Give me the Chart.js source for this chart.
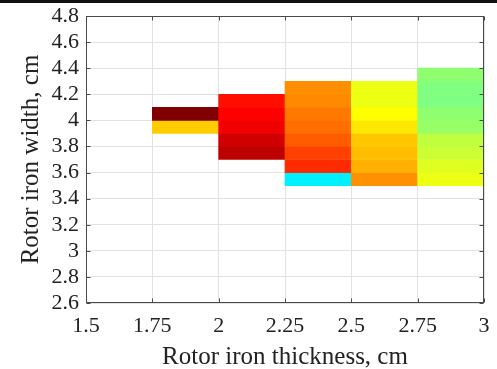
<!DOCTYPE html>
<html>
<head>
<meta charset="utf-8">
<script src="https://cdn.jsdelivr.net/npm/chart.js@4.4.0/dist/chart.umd.min.js"></script>
<style>
  html, body { margin: 0; padding: 0; background: #fff; }
  #wrap { position: relative; width: 497px; height: 369px; }
  #topline { position: absolute; left: 0; top: 0; width: 497px; height: 3px; background: #111; }
</style>
</head>
<body>
<div id="wrap">
  <canvas id="myChart" width="497" height="369"></canvas>
  <div id="topline"></div>
</div>
<script>
// cell lower-left corners
const thickness = [1.75, 2.0, 2.25, 2.5, 2.75];
const widths = [3.5, 3.6, 3.7, 3.8, 3.9, 4.0, 4.1, 4.2, 4.3];
// colour level of each cell (0..1 on the jet colormap), one list per thickness, null = empty
const levels = [
  [null, null, null, null, 0.675, 1.0, null, null, null],
  [null, null, 0.94, 0.92, 0.89, 0.875, 0.86, null, null],
  [0.36, 0.8325, 0.8125, 0.785, 0.7675, 0.7575, 0.74, 0.735, null],
  [0.734, 0.7025, 0.6875, 0.68, 0.6475, 0.625, 0.6075, 0.6075, null],
  [0.6075, 0.5925, 0.575, 0.5625, 0.525, 0.516, 0.5, 0.5, 0.516],
];
const xTicks = [1.5, 1.75, 2, 2.25, 2.5, 2.75, 3];
const yTicks = [2.6, 2.8, 3, 3.2, 3.4, 3.6, 3.8, 4, 4.2, 4.4, 4.6, 4.8];

const grafica = document.getElementById("myChart");

const jet = (v) => {
  const c = (t) => Math.round(255 * Math.max(0, Math.min(1, 1.5 - Math.abs(4 * v - t))));
  return `rgb(${c(3)}, ${c(2)}, ${c(1)})`;
};

const tStep = thickness[1] - thickness[0];
const wStep = 0.1;
const cells = [];
thickness.forEach((t, i) => {
  widths.forEach((w, j) => {
    const v = levels[i][j];
    if (v === null) return;
    cells.push({ x: t + tStep / 2, y: [w, w + wStep], v });
  });
});

const frame = {
  id: "frame",
  afterDatasetsDraw(chart) {
    const { ctx, chartArea: a, scales } = chart;
    ctx.save();
    ctx.strokeStyle = "#4a4a4a";
    ctx.lineWidth = 1;
    const l = Math.round(a.left) + 0.5, r = Math.round(a.right) - 0.5;
    const t = Math.round(a.top) + 0.5, b = Math.round(a.bottom) - 0.5;
    ctx.strokeRect(l, t, r - l, b - t);
    ctx.beginPath();
    xTicks.forEach((v) => {
      const px = Math.round(scales.x.getPixelForValue(v)) + 0.5;
      ctx.moveTo(px, b); ctx.lineTo(px, b - 4);
      ctx.moveTo(px, t); ctx.lineTo(px, t + 4);
    });
    yTicks.forEach((v) => {
      const py = Math.round(scales.y.getPixelForValue(v)) + 0.5;
      ctx.moveTo(l, py); ctx.lineTo(l + 4, py);
      ctx.moveTo(r, py); ctx.lineTo(r - 4, py);
    });
    ctx.stroke();
    ctx.restore();
  },
};

Chart.defaults.font.family = "'Liberation Serif', 'Times New Roman', serif";
Chart.defaults.color = "#222";

const mychart = new Chart(grafica, {
  type: "bar",
  data: {
    datasets: [
      {
        data: cells,
        backgroundColor: cells.map((c) => jet(c.v)),
        borderWidth: 0,
        grouped: false,
        barPercentage: 1,
        categoryPercentage: 1,
      },
    ],
  },
  options: {
    responsive: false,
    animation: false,
    layout: { padding: { left: 0, right: 13, top: 16, bottom: 0 } },
    plugins: { legend: { display: false }, tooltip: { enabled: false } },
    scales: {
      x: {
        type: "linear",
        min: 1.5,
        max: 3,
        offset: false,
        afterBuildTicks: (s) => { s.ticks = xTicks.map((value) => ({ value })); },
        afterFit: (s) => { s.height = 66; s.paddingLeft = 0; s.paddingRight = 0; },
        ticks: { font: { size: 22 }, padding: 10, maxRotation: 0, autoSkip: false, callback: (v) => String(v) },
        grid: { color: "#e2e2e2", drawTicks: false, offset: false },
        border: { display: false },
        title: { display: true, text: "Rotor iron thickness, cm", font: { size: 25 }, padding: { top: 0, bottom: -3 } },
      },
      y: {
        min: 2.6,
        max: 4.8,
        afterBuildTicks: (s) => { s.ticks = yTicks.map((value) => ({ value })); },
        afterFit: (s) => { s.width = 86; s.paddingTop = 0; s.paddingBottom = 0; },
        ticks: { font: { size: 22 }, padding: 7, autoSkip: false, callback: (v) => String(v) },
        grid: { color: "#e2e2e2", drawTicks: false },
        border: { display: false },
        title: { display: true, text: "Rotor iron width, cm", font: { size: 25 }, padding: { top: 16, bottom: 0 } },
      },
    },
  },
  plugins: [frame],
});
</script>
</body>
</html>
